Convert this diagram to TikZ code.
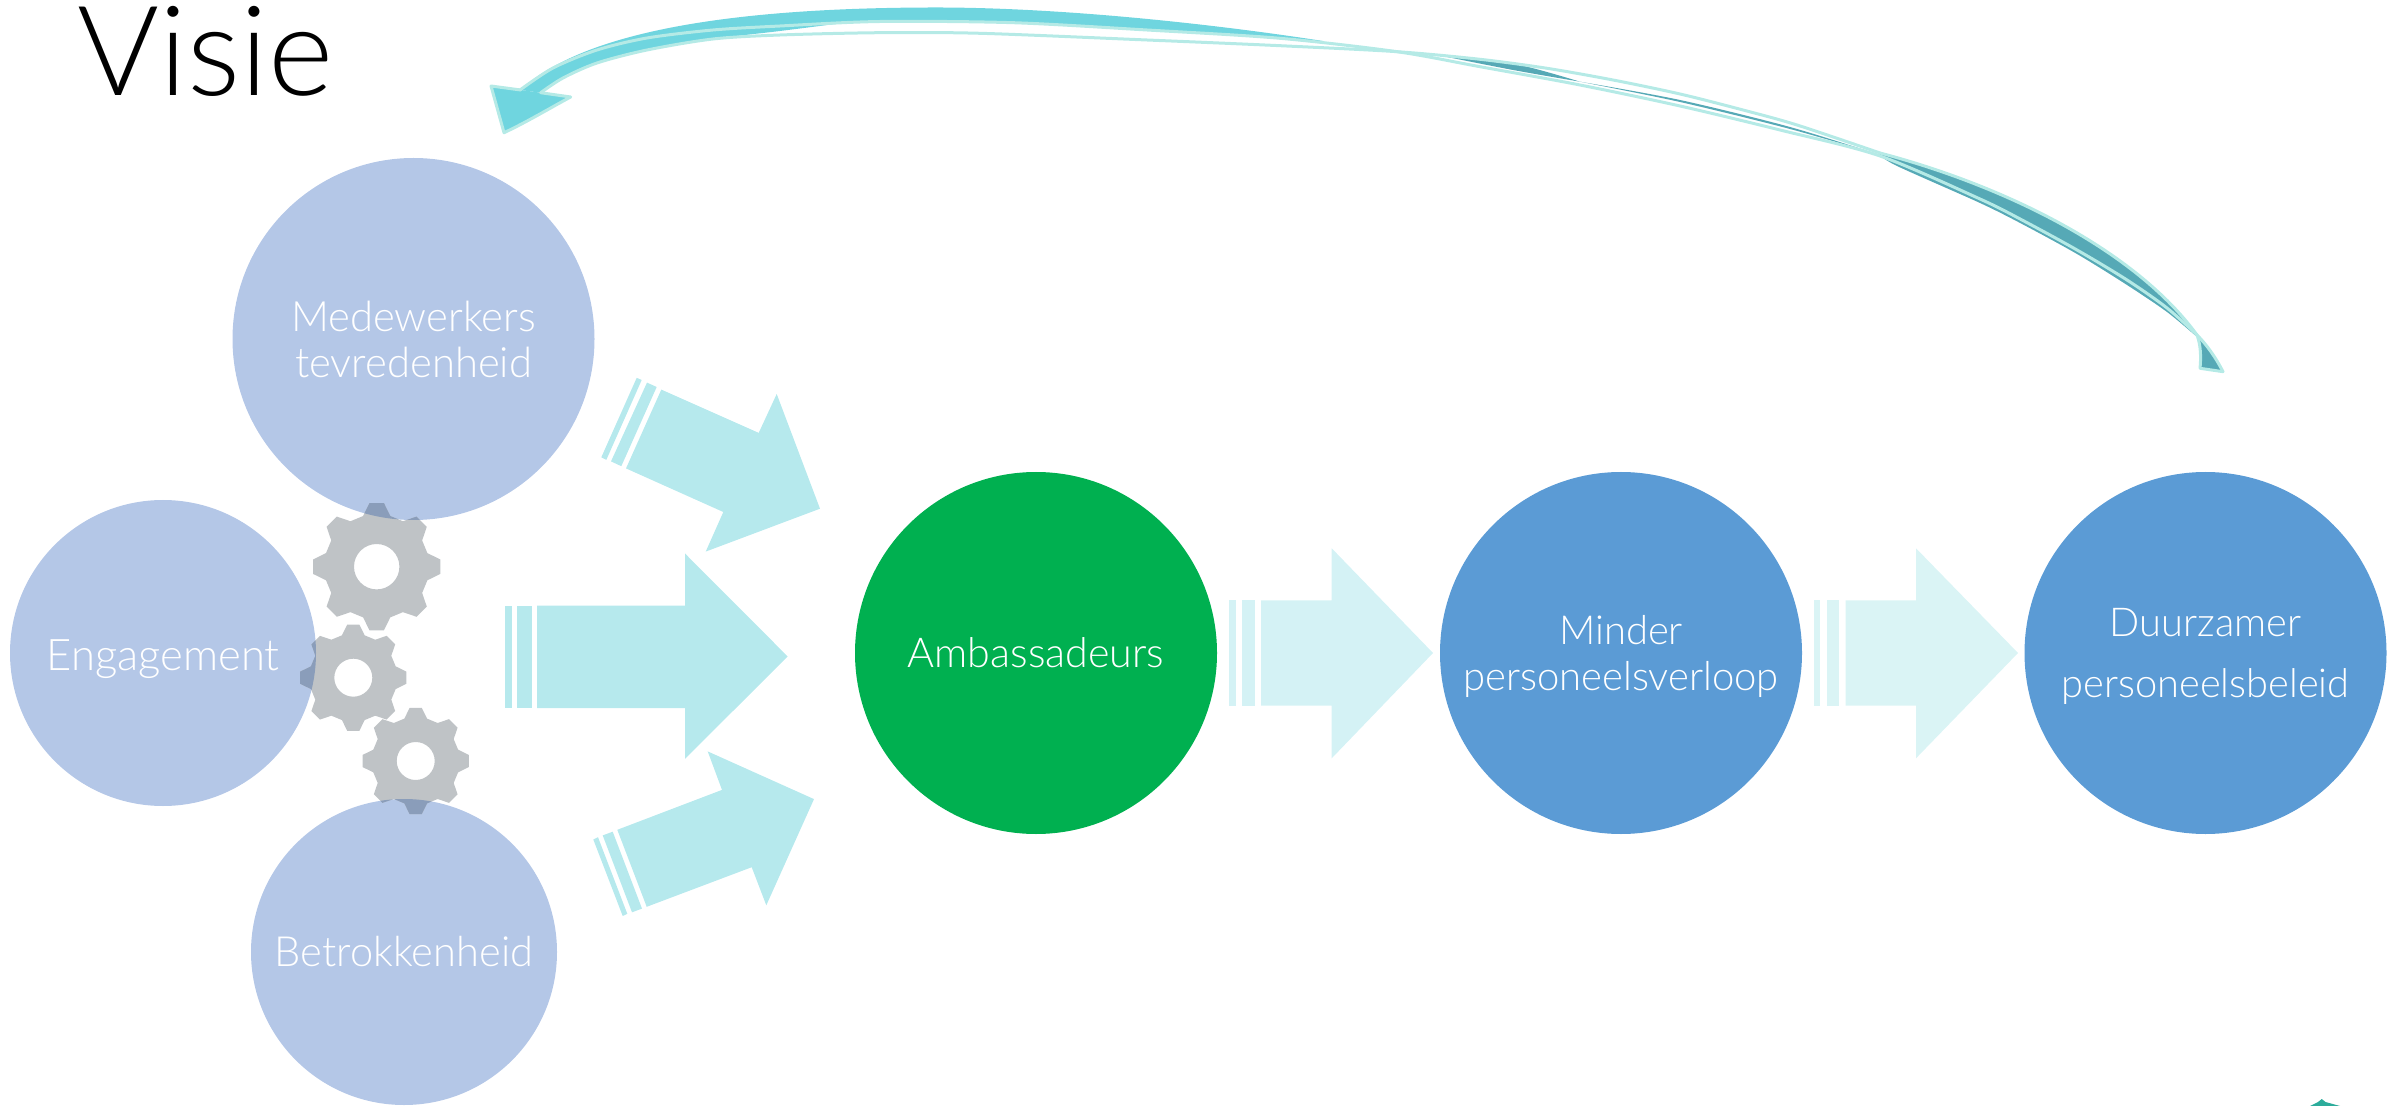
\documentclass[tikz,border=0pt]{standalone}
\usepackage{fontspec}
\setmainfont{Lato}[UprightFont=* Light]
\definecolor{softblue}{HTML}{B4C7E7}
\definecolor{midblue}{HTML}{5B9BD5}
\definecolor{ambgreen}{HTML}{00B050}
\definecolor{arrowA}{HTML}{B6E9ED}
\definecolor{arrowB}{HTML}{D4F2F5}
\definecolor{arrowC}{HTML}{DAF4F5}
\definecolor{ribbon}{HTML}{6FD5DF}
\definecolor{ribbonline}{HTML}{B5EAE6}
\definecolor{ribbonback}{HTML}{56A9B6}
\definecolor{gearlight}{HTML}{BFC3C6}
\definecolor{geardark}{HTML}{8A9DBA}
\definecolor{markgreen}{HTML}{2CAC9B}
\tikzset{
  disc/.style={circle,inner sep=0pt,text=white,align=center},
  bigdisc/.style={disc,minimum size=181pt},
  smalldisc/.style={disc,minimum size=153pt},
  edgeline/.style={draw=ribbonline,line width=1.5pt,line join=round,line cap=round},
  curve/.style={smooth,tension=.5},
}
\newcommand\gearoutline[2]{(-15:0.82*#1) \foreach \a in {0,45,...,315}{ -- (\a-15:0.82*#1) -- (\a-6.5:#1) -- (\a+6.5:#1) -- (\a+15:0.82*#1)} -- cycle (0,0) circle (#2)}
\newcommand\sized[2]{\fontsize{#1}{#2}\selectfont}
\begin{document}
\begin{tikzpicture}[x=0.5pt,y=-0.5pt]
\useasboundingbox (0,0) rectangle (2392,1106);
% discs
\node[bigdisc,fill=softblue,font=\sized{20.9}{23}] (med) at (413.5,339) {Medewerkers\\tevredenheid};
\node[smalldisc,fill=softblue,font=\sized{21.8}{23}] (eng) at (163,653) {\rule{0pt}{17pt}\smash{Engagement}};
\node[smalldisc,fill=softblue,font=\sized{20.8}{23}] (bet) at (404,952) {Betrokkenheid};
\node[bigdisc,fill=ambgreen,font=\sized{20.6}{23}] (amb) at (1036,653) {Ambassadeurs};
\node[bigdisc,fill=midblue,font=\sized{20}{23}] (min) at (1621,653) {\rule{0pt}{18pt}Minder\\personeelsverloop};
\node[bigdisc,fill=midblue,font=\sized{19.9}{30.5}] (duu) at (2205.5,653) {\rule{0pt}{18pt}Duurzamer\\personeelsbeleid};
\node[anchor=base west,inner sep=0pt,font=\sized{62.5}{62}] (visie) at (77,96) {Visie};
% block arrows
\fill[arrowA] (636.7,377.8) -- (641.7,380) -- (606.3,459.9) -- (601.3,457.3) -- cycle;
\fill[arrowA] (647,382.6) -- (656.7,387) -- (621.3,466.2) -- (611,461.4) -- cycle;
\fill[arrowA] (661.3,389.6) -- (758.7,432.9) -- (776.7,394) -- (820,508.7) -- (705.7,551.6) -- (723.3,512) -- (626,468.4) -- cycle;
\fill[arrowA] (505,605.5) rectangle (512,708);
\fill[arrowA] (517,605.5) rectangle (532,708);
\fill[arrowA] (537,605.5) -- (685,605.5) -- (685,553.5) -- (787.7,656.5) -- (685,758.8) -- (685,708) -- (537,708) -- cycle;
\fill[arrowA] (593.3,839.5) -- (598,837.2) -- (627.3,913.8) -- (622.7,916) -- cycle;
\fill[arrowA] (602.7,835.4) -- (612.7,831.7) -- (642,908.6) -- (632,912.3) -- cycle;
\fill[arrowA] (617.3,829.8) -- (722,789.9) -- (707.7,751.4) -- (814,799.1) -- (766.3,905.3) -- (751.7,867.2) -- (646.7,906.8) -- cycle;
\fill[arrowB] (1229,600.3) rectangle (1235.7,705.7);
\fill[arrowB] (1242,600.3) rectangle (1255,705.7);
\fill[arrowB] (1261,600.3) -- (1331.7,600.3) -- (1331.7,548.3) -- (1433,653) -- (1331.7,758.3) -- (1331.7,705.7) -- (1261,705.7) -- cycle;
\fill[arrowC] (1813.7,600.3) rectangle (1820,705.7);
\fill[arrowC] (1826.7,600.3) rectangle (1839,705.7);
\fill[arrowC] (1845.7,600.3) -- (1916,600.3) -- (1916,548.3) -- (2018,653) -- (1916,758.3) -- (1916,705.7) -- (1845.7,705.7) -- cycle;
% gears
\begin{scope}[shift={(376.7,566.7)}]
  \fill[gearlight,even odd rule] \gearoutline{64}{22.7};
\end{scope}
\begin{scope}[shift={(353.3,677.7)}]
  \fill[gearlight,even odd rule] \gearoutline{53.5}{19};
\end{scope}
\begin{scope}[shift={(415.7,761)}]
  \fill[gearlight,even odd rule] \gearoutline{53.5}{19};
\end{scope}
\begin{scope}
  \clip (med.center) circle[radius=90.5pt];
  \begin{scope}[shift={(376.7,566.7)}]
    \fill[geardark,even odd rule] \gearoutline{64}{22.7};
  \end{scope}
\end{scope}
\begin{scope}
  \clip (eng.center) circle[radius=76.5pt];
  \begin{scope}[shift={(353.3,677.7)}]
    \fill[geardark,even odd rule] \gearoutline{53.5}{19};
  \end{scope}
\end{scope}
\begin{scope}
  \clip (bet.center) circle[radius=76.5pt];
  \begin{scope}[shift={(415.7,761)}]
    \fill[geardark,even odd rule] \gearoutline{53.5}{19};
  \end{scope}
\end{scope}
% ribbon front: upper band
\fill[ribbon] (520.7,90) .. controls (590,25) and (760,8) .. (930,7.5) .. controls (1050,7) and (1200,22) .. (1323,41) -- plot[curve] coordinates {(1323,43)(1280,38.3)(1147,30)(1013,22.7)(880,21.5)(780,26)(713,30)(647,38)(597,50)(553,68)(520,90)} -- cycle;
% ribbon front: lower band
\fill[ribbon] plot[curve] coordinates {(520,90)(553,68)(597,50)(647,38)(713,30)(780,26)(843,23)} -- plot[curve] coordinates {(843,23)(780,31)(713,39)(647,50)(597,63)(563,78)(540.7,92.7)} -- cycle;
% ribbon back: teal parts
\fill[ribbonback] plot[curve] coordinates {(1437,55)(1513,63.5)(1580,81.7)} -- plot[curve] coordinates {(1580,81.7)(1513,70)(1437,55)} -- cycle;
\fill[ribbonback] plot[curve] coordinates {(1580,81.7)(1680,100)(1790,127)(1880,155)} -- plot[curve] coordinates {(1880,155)(1790,129)(1680,102)(1580,81.7)} -- cycle;
\fill[ribbonback] (1880,153) .. controls (2005,186) and (2135,250) .. (2197,337) -- plot[curve] coordinates {(2197,337)(2167,312)(2127,285)(2077,254)(2022,224)(1980,203)(1897,166)(1880,155)} -- cycle;
\fill[ribbonback] (2198,336.7) .. controls (2207,345) and (2216,358) .. (2223,371.7) -- (2200,368.3) .. controls (2201,358) and (2200,347) .. (2198,336.7) -- cycle;
% arrow head
\fill[ribbon] (491,86) -- (504,132.7) .. controls (527,122) and (550,108) .. (570.7,97) -- (540.7,92.7) -- (520.7,90) -- cycle;
\draw[edgeline] (520.7,90) -- (491,86) -- (504,132.7) .. controls (527,122) and (550,108) .. (570.7,97) -- (540.7,92.7);
% ribbon edges
\draw[edgeline] plot[curve] coordinates {(520,90)(553,68)(597,50)(647,38)(713,30)(780,26)(880,21.5)(1013,22.7)(1147,30)(1280,38.3)(1397,51.7)(1480,66.7)(1580,85)(1680,106)(1780,130)(1880,156)(1980,199)(2022,220)(2077,250)(2127,280)(2167,308)(2197,335)};
\draw[edgeline] (2197,335) .. controls (2201,346) and (2201,358) .. (2200,368.3) -- (2223,371.7);
\draw[edgeline] plot[curve] coordinates {(540.7,92.7)(563,78)(597,63)(647,50)(713,39)(780,35)(880,32.7)(980,33.3)(1147,40)(1280,45.7)(1397,51.7)(1480,59.3)(1547,68.3)(1613,80)(1680,94)(1743,110)(1797,125)(1880,153)};
\draw[edgeline] (1880,153) .. controls (2005,186) and (2135,250) .. (2197,335) .. controls (2207,345) and (2216,358) .. (2223,371.7);
% small mark at the lower edge
\fill[markgreen] (2310,1106) -- (2318,1102) -- (2321.7,1099) -- (2325.5,1102) -- (2340,1106) -- cycle;
\end{tikzpicture}
\end{document}
